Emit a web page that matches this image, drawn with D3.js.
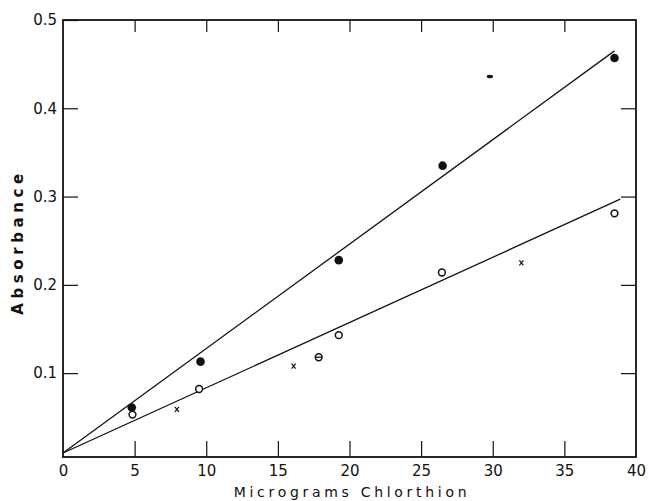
<!DOCTYPE html>
<html>
<head>
<meta charset="utf-8">
<script src="https://cdn.jsdelivr.net/npm/d3@7"></script>
<style>
  body { margin: 0; background: #fff; }
  svg text { font-family: "DejaVu Sans", sans-serif; fill: #111; }
</style>
</head>
<body>
<svg id="chart" width="649" height="501"></svg>
<script>
// absorbance vs micrograms chlorthion

const xTicks = [0, 5, 10, 15, 20, 25, 30, 35, 40];
const yTicks = [0.1, 0.2, 0.3, 0.4, 0.5];

// filled circles
const filledX = [4.8, 9.6, 19.25, 26.5, 38.5];
const filledY = [0.061, 0.113, 0.228, 0.335, 0.457];
// open circles
const openX = [4.85, 9.5, 19.25, 26.45, 38.5];
const openY = [0.053, 0.082, 0.143, 0.214, 0.281];
// crosses
const crossX = [7.95, 16.1, 32.0];
const crossY = [0.059, 0.108, 0.225];
// circle with bar
const barCircX = [17.85];
const barCircY = [0.118];
// small dash
const dashX = [29.8];
const dashY = [0.436];

// fitted lines (start, end)
const upperLineX = [0, 38.5];
const upperLineY = [0.0095, 0.465];
const lowerLineX = [0, 38.9];
const lowerLineY = [0.0095, 0.297];

const svg = d3.select("#chart");

const x = d3.scaleLinear().domain([0, 40]).range([63, 636]);
const y = d3.scaleLinear().domain([0.005, 0.5]).range([457, 20]);

const zip = (a, b) => a.map((v, i) => [v, b[i]]);

// frame
svg.append("rect")
    .attr("x", x(0)).attr("y", y(0.5))
    .attr("width", x(40) - x(0)).attr("height", y(0.005) - y(0.5))
    .attr("fill", "none").attr("stroke", "#111").attr("stroke-width", 1.8);

// bottom axis, ticks point inward
svg.append("g")
    .attr("transform", "translate(0," + y(0.005) + ")")
    .call(d3.axisBottom(x).tickValues(xTicks).tickSize(-16).tickPadding(8).tickFormat(d3.format("d")))
    .call(g => g.select(".domain").remove())
    .call(g => g.selectAll("line").attr("stroke", "#111").attr("stroke-width", 1.2))
    .call(g => g.selectAll("text").attr("font-size", "15px").attr("fill", "#111")
        .attr("font-family", "DejaVu Sans, sans-serif").attr("dy", "0.75em"));
// no tick lines at the frame corners
svg.selectAll("g .tick").filter(d => d === 0 || d === 40).select("line").remove();

// top ticks
svg.append("g")
    .attr("transform", "translate(0," + y(0.5) + ")")
    .call(d3.axisTop(x).tickValues(xTicks.slice(1, -1)).tickSize(-12).tickFormat(""))
    .call(g => g.select(".domain").remove())
    .call(g => g.selectAll("line").attr("stroke", "#111").attr("stroke-width", 1.2));

// left axis
svg.append("g")
    .attr("transform", "translate(" + x(0) + ",0)")
    .call(d3.axisLeft(y).tickValues(yTicks).tickSize(-15).tickPadding(6).tickFormat(d3.format(".1f")))
    .call(g => g.select(".domain").remove())
    .call(g => g.selectAll("line").attr("stroke", "#111").attr("stroke-width", 1.2))
    .call(g => g.selectAll("text").attr("font-size", "15px").attr("fill", "#111")
        .attr("font-family", "DejaVu Sans, sans-serif"));

// right ticks
svg.append("g")
    .attr("transform", "translate(" + x(40) + ",0)")
    .call(d3.axisRight(y).tickValues(yTicks.slice(0, -1)).tickSize(-15).tickFormat(""))
    .call(g => g.select(".domain").remove())
    .call(g => g.selectAll("line").attr("stroke", "#111").attr("stroke-width", 1.2));

// axis titles
svg.append("text")
    .attr("x", 352).attr("y", 497)
    .attr("text-anchor", "middle")
    .attr("font-size", "14px")
    .attr("letter-spacing", "3.7px")
    .text("Micrograms Chlorthion");

svg.append("text")
    .attr("transform", "translate(23,242) rotate(-90)")
    .attr("text-anchor", "middle")
    .attr("font-size", "15px")
    .attr("font-weight", "600")
    .attr("letter-spacing", "4.6px")
    .text("Absorbance");

// fitted lines
const line = d3.line().x(d => x(d[0])).y(d => y(d[1]));
svg.append("path")
    .attr("d", line(zip(upperLineX, upperLineY)))
    .attr("fill", "none").attr("stroke", "#111").attr("stroke-width", 1.3);
svg.append("path")
    .attr("d", line(zip(lowerLineX, lowerLineY)))
    .attr("fill", "none").attr("stroke", "#111").attr("stroke-width", 1.3);

// filled circles
svg.selectAll(".filled")
    .data(zip(filledX, filledY))
    .enter().append("circle")
    .attr("cx", d => x(d[0])).attr("cy", d => y(d[1]))
    .attr("r", 4.3).attr("fill", "#111");

// open circles
svg.selectAll(".open")
    .data(zip(openX, openY))
    .enter().append("circle")
    .attr("cx", d => x(d[0])).attr("cy", d => y(d[1]))
    .attr("r", 3.4).attr("fill", "#fff").attr("stroke", "#111").attr("stroke-width", 1.5);

// circle with bar
const bc = svg.selectAll(".barcirc")
    .data(zip(barCircX, barCircY))
    .enter().append("g")
    .attr("transform", d => "translate(" + x(d[0]) + "," + y(d[1]) + ")");
bc.append("circle").attr("r", 3.4).attr("fill", "#fff").attr("stroke", "#111").attr("stroke-width", 1.5);
bc.append("line").attr("x1", -3).attr("x2", 3).attr("stroke", "#111").attr("stroke-width", 1.3);

// crosses
svg.selectAll(".cross")
    .data(zip(crossX, crossY))
    .enter().append("path")
    .attr("transform", d => "translate(" + x(d[0]) + "," + y(d[1]) + ")")
    .attr("d", "M-2,-2.5L2,2.5M2,-2.5L-2,2.5")
    .attr("stroke", "#111").attr("stroke-width", 1.2).attr("fill", "none");

// small dash
svg.selectAll(".dash")
    .data(zip(dashX, dashY))
    .enter().append("ellipse")
    .attr("cx", d => x(d[0])).attr("cy", d => y(d[1]))
    .attr("rx", 3.2).attr("ry", 1.8).attr("fill", "#111");
</script>
</body>
</html>
